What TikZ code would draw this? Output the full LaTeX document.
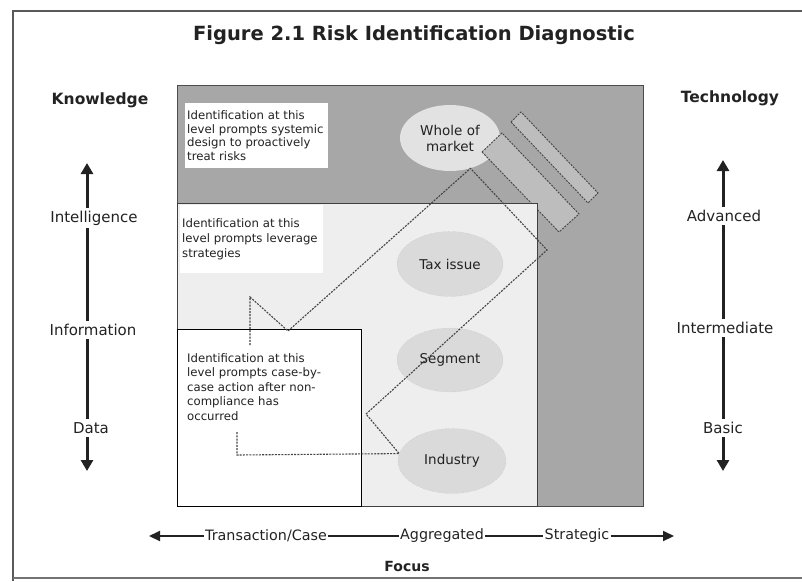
\documentclass[tikz,border=0pt]{standalone}
\usepackage{fontspec}
\setmainfont{DejaVu Sans}
\usetikzlibrary{arrows.meta,shapes.geometric}
\hyphenpenalty=10000
\definecolor{darkzone}{HTML}{A7A7A7}
\definecolor{lightzone}{HTML}{EEEEEE}
\definecolor{bubble}{HTML}{DADADA}
\definecolor{topbubble}{HTML}{E2E2E2}
\definecolor{tubefill}{HTML}{BDBDBD}
\definecolor{trailgrey}{HTML}{444444}
\definecolor{ink}{HTML}{222222}
\begin{document}
\begin{tikzpicture}[x=1pt,y=-1pt,
  frameline/.style={draw=black!65, line width=2.5pt},
  title/.style={font=\bfseries\fontsize{19.5}{22}\selectfont, text=ink},
  axishead/.style={font=\bfseries\fontsize{15.5}{18}\selectfont, text=ink, inner sep=1pt},
  axislabel/.style={font=\fontsize{15}{17}\selectfont, text=ink, inner sep=3pt},
  focuslabel/.style={font=\fontsize{14.3}{16}\selectfont, text=ink, inner sep=1pt},
  axisline/.style={draw=ink, line width=3pt},
  axisarrow/.style={axisline, -{Triangle[length=11pt,width=12pt]}},
  focusline/.style={draw=ink, line width=2pt},
  focusarrow/.style={focusline, -{Triangle[length=11pt,width=10pt]}},
  note/.style={align=left, anchor=north west, text=ink,
    font=\fontsize{11.7}{13.8}\selectfont, inner sep=2pt},
  level/.style={ellipse, inner sep=0pt, align=center, text=ink,
    font=\fontsize{13.5}{16}\selectfont},
  trail/.style={draw=trailgrey, line width=1.1pt, dash pattern=on 2pt off 1.2pt},
  tube/.style={fill=tubefill, draw=trailgrey, line width=0.9pt, dash pattern=on 2pt off 1.2pt}
]
\useasboundingbox (0,0) rectangle (802,581);

% outer frame
\draw[frameline] (802,11) -- (13,11) -- (13,581);
\draw[frameline, draw=black!55, line width=2pt] (13,578) -- (802,578);

% title
\node[title] (title) at (414,35) {Figure 2.1 Risk Identification Diagnostic};

% nested zones: strategic, aggregated, transaction level
\path[fill=darkzone, draw=black!70, line width=0.8pt] (177,85) rectangle (643,506);
\node[level, fill=topbubble, minimum width=100pt, minimum height=66pt] (whole) at (450,138) {Whole of\\market};
\draw[tube] (511,122) -- (521,112) -- (598,193) -- (588,203) -- cycle;
\draw[tube] (482,152) -- (502,133) -- (579,214) -- (559,232) -- cycle;
\path[fill=lightzone, draw=black!75, line width=0.8pt] (177,203) rectangle (537,506);
\path[fill=white, draw=black, line width=0.9pt] (177,329) rectangle (361,506);

% explanatory notes
\node[note, fill=white, minimum height=65pt, text width=139pt] (note1) at (185,103)
  {Identification at this\\level prompts systemic\\design to proactively\\treat risks};
\node[note, fill=white, minimum height=68pt, text width=139pt,
  font=\fontsize{11.7}{14.8}\selectfont] (note2) at (180,205)
  {Identification at this\\level prompts leverage\\strategies};
\node[note, font=\fontsize{11.7}{14.5}\selectfont, text width=170pt] (note3) at (185,351)
  {Identification at this\\level prompts case-by-\\case action after non-\\compliance has\\occurred};

% levels
\node[level, fill=bubble, draw=black!30, dotted, minimum width=106pt, minimum height=65pt] (tax) at (450,264) {Tax issue};
\node[level, fill=bubble, draw=black!30, dotted, minimum width=106pt, minimum height=64pt] (segment) at (450,360) {Segment};
\node[level, fill=bubble, draw=black!30, dotted, minimum width=108pt, minimum height=65pt] (industry) at (452,461) {Industry};

% dotted trail linking the notes to the levels
\coordinate (t0) at (250,345);
\coordinate (t1) at (250,297);
\coordinate (t2) at (288,331);
\coordinate (t4) at (547,250);
\coordinate (t5) at (366,414);
\coordinate (t7) at (237,455);
\coordinate (t8) at (237,432);
\draw[trail] (t0) -- (t1) -- (t2) -- (whole.-56) -- (t4) -- (t5) -- (industry.172) -- (t7) -- (t8);

% knowledge axis
\node[axishead] (knowledge) at (100,100) {Knowledge};
\coordinate (lTop) at (87,163);
\coordinate (lBot) at (87,471);
\node[axislabel] (intel) at (94,218) {Intelligence};
\node[axislabel] (info) at (93,330) {Information};
\node[axislabel] (data) at (91,428) {Data};
\draw[axisarrow] (intel.north -| lTop) -- (lTop);
\draw[axisline] (info.north -| lTop) -- (intel.south -| lTop);
\draw[axisline] (data.north -| lTop) -- (info.south -| lTop);
\draw[axisarrow] (data.south -| lTop) -- (lBot);

% technology axis
\node[axishead] (technology) at (730,98) {Technology};
\coordinate (rTop) at (723,160);
\coordinate (rBot) at (723,471);
\node[axislabel] (adv) at (724,216) {Advanced};
\node[axislabel] (inter) at (725,328) {Intermediate};
\node[axislabel] (basic) at (723,428) {Basic};
\draw[axisarrow] (adv.north -| rTop) -- (rTop);
\draw[axisline] (inter.north -| rTop) -- (adv.south -| rTop);
\draw[axisline] (basic.north -| rTop) -- (inter.south -| rTop);
\draw[axisarrow] (basic.south -| rTop) -- (rBot);

% focus axis
\coordinate (fLeft) at (149,536);
\coordinate (fRight) at (674,536);
\node[focuslabel] (trans) at (266,536) {Transaction/Case};
\node[focuslabel] (aggr) at (442,536) {Aggregated};
\node[focuslabel] (strat) at (577,536) {Strategic};
\draw[focusarrow] (trans.west) -- (fLeft);
\draw[focusline] (trans.east) -- (aggr.west);
\draw[focusline] (aggr.east) -- (strat.west);
\draw[focusarrow] (strat.east) -- (fRight);
\node[axishead, font=\bfseries\fontsize{14}{16}\selectfont] (focus) at (407,566) {Focus};
\end{tikzpicture}
\end{document}
